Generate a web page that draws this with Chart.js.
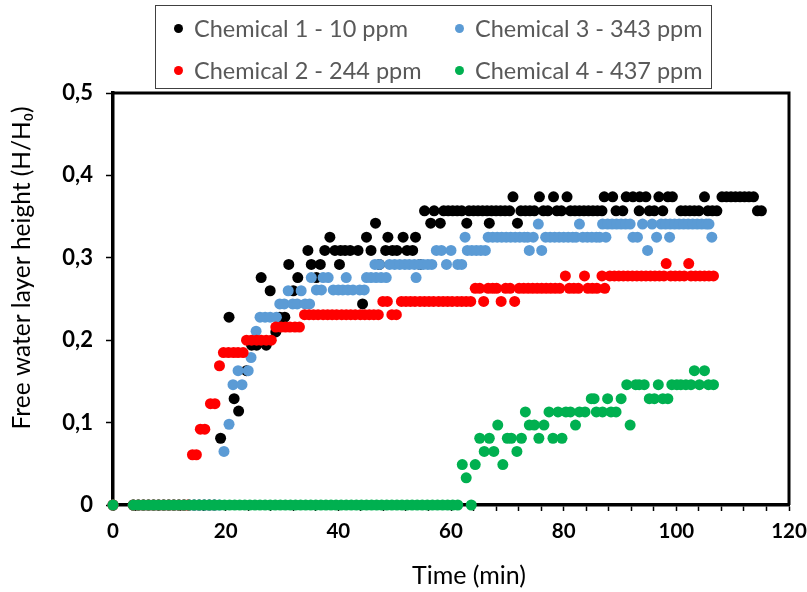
<!DOCTYPE html>
<html>
<head>
<meta charset="utf-8">
<script src="https://cdn.jsdelivr.net/npm/chart.js@4.4.0/dist/chart.umd.min.js"></script>
<style>
  body { margin: 0; background: #fff; }
  #wrap { position: relative; width: 807px; height: 592px; }
  #legend {
    position: absolute; left: 155px; top: 5px; width: 557px; height: 84px;
    box-sizing: border-box; border: 1.5px solid #404040;
    font-family: Lato, sans-serif; font-size: 23.5px; color: #595959;
  }
  .item { position: absolute; white-space: nowrap; line-height: 28px; }
  .dot { position: absolute; width: 9px; height: 9px; border-radius: 50%; top: 10px; left: -20px; }
</style>
</head>
<body>
<div id="wrap">
  <canvas id="chart" width="807" height="592"></canvas>
  <div id="legend"></div>
</div>
<script>
// readings: [time (min), free water layer height H/H0]
var chem1Points = [
  [0,0],[3.6,0],[4.5,0],[5.4,0],[6.3,0],[7.2,0],[8.1,0],[9.0,0],[9.9,0],[10.8,0],[11.7,0],[12.6,0],[13.5,0],[14.4,0],[15.3,0],[16.2,0],[17.1,0],[18.0,0],
  [19.1,0.081],[20.6,0.228],[21.5,0.129],[22.3,0.114],[23.7,0.163],[24.6,0.194],[25.5,0.194],[26.3,0.276],[27.2,0.194],[27.9,0.260],
  [28.9,0.210],[29.6,0.228],[30.5,0.228],[31.2,0.292],[32.0,0.260],[32.8,0.276],[34.6,0.309],[35.2,0.292],[36.1,0.276],[36.8,0.292],
  [37.6,0.309],[38.5,0.325],[39.4,0.309],[40.2,0.292],[40.4,0.309],[41.2,0.309],[42.1,0.309],[43.5,0.309],[44.3,0.244],[45.0,0.325],
  [45.8,0.309],[46.6,0.342],[47.3,0.292],[48.4,0.309],[48.8,0.325],[49.6,0.309],[50.4,0.309],[51.5,0.325],[52.2,0.309],[53.2,0.309],
  [53.7,0.325],[54.5,0.292],[55.3,0.357],[56.4,0.342],[57.0,0.357],[58.1,0.342],[58.7,0.357],[59.5,0.357],[60.3,0.357],[61.1,0.357],
  [61.9,0.357],[62.8,0.342],[63.2,0.357],[64.0,0.357],[64.8,0.357],[65.6,0.357],[66.4,0.357],[66.8,0.342],[67.2,0.357],[68.0,0.357],
  [68.8,0.357],[69.6,0.357],[70.4,0.357],[71.0,0.374],[71.8,0.342],[72.4,0.357],[73.2,0.357],[74.0,0.357],[74.8,0.357],[75.7,0.374],
  [76.4,0.357],[77.2,0.357],[78.2,0.374],[78.8,0.357],[79.6,0.357],[80.6,0.374],[81.2,0.357],[82.0,0.357],[82.8,0.357],[83.6,0.357],
  [84.4,0.357],[85.2,0.357],[86.0,0.357],[86.8,0.357],[87.2,0.374],[88.7,0.374],[89.3,0.357],[90.5,0.357],[91.1,0.374],[92.3,0.374],
  [93.4,0.357],[93.5,0.374],[94.6,0.374],[95.2,0.357],[96.1,0.357],[96.9,0.374],[97.6,0.357],[98.5,0.374],[99.3,0.374],[100.8,0.357],
  [101.6,0.357],[102.4,0.357],[103.2,0.357],[104.0,0.357],[105.0,0.374],[105.6,0.357],[106.4,0.357],[107.2,0.357],[108.1,0.374],
  [108.9,0.374],[109.7,0.374],[110.5,0.374],[111.3,0.374],[112.1,0.374],[112.9,0.374],[113.7,0.374],[114.4,0.357],[115.1,0.357]
];
var chem2Points = [
  [0,0],[3.6,0],[4.5,0],[5.4,0],[6.3,0],[7.2,0],[8.1,0],[9.0,0],[9.9,0],[10.8,0],[11.7,0],[12.6,0],[13.3,0],
  [14.1,0.061],[14.8,0.061],[15.5,0.092],[16.3,0.092],[17.3,0.123],[18.1,0.123],[18.9,0.169],[19.6,0.185],[20.5,0.185],[21.4,0.185],
  [22.2,0.185],[23.1,0.185],[23.7,0.200],[24.6,0.200],[25.5,0.200],[26.3,0.200],[27.2,0.200],[28.1,0.200],[28.9,0.216],[29.8,0.216],
  [30.6,0.216],[31.4,0.216],[32.3,0.216],[33.1,0.216],[34.0,0.231],[34.8,0.231],[35.6,0.231],[36.4,0.231],[37.3,0.231],[38.1,0.231],
  [38.9,0.231],[39.7,0.231],[40.6,0.231],[41.4,0.231],[42.2,0.231],[43.0,0.231],[43.9,0.231],[44.7,0.231],[45.5,0.231],[46.3,0.231],
  [47.1,0.231],[47.9,0.247],[48.7,0.247],[49.5,0.231],[50.3,0.231],[51.2,0.247],[52.0,0.247],[52.8,0.247],[53.6,0.247],[54.5,0.247],
  [55.3,0.247],[56.1,0.247],[56.9,0.247],[57.8,0.247],[58.6,0.247],[59.4,0.247],[60.2,0.247],[61.1,0.247],[61.9,0.247],[62.7,0.247],
  [63.5,0.247],[64.3,0.263],[65.1,0.263],[65.8,0.247],[66.6,0.263],[67.4,0.263],[68.1,0.263],[68.9,0.247],[69.7,0.263],[70.5,0.263],
  [71.3,0.247],[72.1,0.263],[72.9,0.263],[73.7,0.263],[74.5,0.263],[75.3,0.263],[76.1,0.263],[76.9,0.263],[77.7,0.263],[78.5,0.263],
  [79.3,0.263],[80.3,0.278],[81.0,0.263],[81.8,0.263],[82.6,0.263],[83.7,0.278],[84.3,0.263],[85.1,0.263],[85.9,0.263],[86.8,0.278],
  [87.3,0.263],[88.2,0.278],[89.0,0.278],[89.8,0.278],[90.6,0.278],[91.4,0.278],[92.2,0.278],[93.0,0.278],[93.8,0.278],[94.6,0.278],
  [95.4,0.278],[96.2,0.278],[97.0,0.278],[97.8,0.278],[98.2,0.293],[99.0,0.278],[99.8,0.278],[100.6,0.278],[101.4,0.278],[102.2,0.293],
  [102.6,0.278],[103.4,0.278],[104.2,0.278],[105.0,0.278],[105.8,0.278],[106.6,0.278]
];
var chem3Points = [
  [0,0],[3.6,0],[4.5,0],[5.4,0],[6.3,0],[7.2,0],[8.1,0],[9.0,0],[9.9,0],[10.8,0],[11.7,0],[12.6,0],[13.5,0],[14.4,0],[15.3,0],[16.2,0],[17.1,0],[18.0,0],[18.9,0],
  [19.7,0.065],[20.6,0.098],[21.3,0.146],[22.2,0.163],[22.9,0.146],[24.0,0.163],[24.5,0.179],[25.4,0.211],[26.1,0.228],[27.0,0.228],
  [27.9,0.228],[29.0,0.228],[29.6,0.244],[30.4,0.244],[31.1,0.260],[31.9,0.244],[32.7,0.244],[33.4,0.260],[34.1,0.244],[34.9,0.244],
  [35.2,0.276],[36.1,0.261],[37.0,0.261],[37.3,0.276],[38.2,0.276],[39.1,0.261],[40.0,0.261],[40.8,0.261],[41.4,0.276],[41.7,0.261],
  [42.6,0.261],[43.8,0.261],[44.6,0.261],[45.0,0.276],[45.8,0.276],[46.5,0.292],[46.7,0.276],[47.3,0.292],[47.6,0.276],[48.5,0.276],
  [49.1,0.292],[50.0,0.292],[50.9,0.292],[51.8,0.292],[52.6,0.292],[53.5,0.292],[53.8,0.276],[54.4,0.292],[55.1,0.292],[55.9,0.292],
  [56.6,0.292],[57.4,0.309],[58.3,0.309],[59.2,0.292],[60.0,0.309],[61.2,0.292],[61.9,0.292],[62.5,0.325],[62.9,0.309],[63.7,0.309],
  [64.5,0.309],[65.3,0.309],[66.1,0.309],[66.6,0.325],[67.4,0.325],[68.2,0.325],[69.0,0.325],[69.8,0.325],[70.6,0.325],[71.4,0.325],
  [72.2,0.325],[73.0,0.325],[73.6,0.325],[73.9,0.309],[74.6,0.325],[75.5,0.341],[76.1,0.309],[76.8,0.325],[77.6,0.325],[78.4,0.325],
  [79.2,0.325],[80.0,0.325],[80.8,0.325],[81.6,0.325],[82.2,0.325],[82.8,0.341],[83.4,0.325],[84.2,0.325],[85.0,0.325],[85.8,0.325],
  [86.4,0.325],[86.9,0.341],[87.5,0.325],[87.8,0.341],[88.6,0.341],[89.4,0.341],[90.2,0.341],[91.0,0.341],[91.8,0.341],[92.3,0.325],
  [93.1,0.325],[94.0,0.341],[94.9,0.309],[95.7,0.341],[96.5,0.325],[97.3,0.341],[98.1,0.341],[98.8,0.325],[98.9,0.341],[99.7,0.341],
  [100.5,0.341],[101.3,0.341],[102.1,0.341],[102.9,0.341],[103.7,0.341],[104.5,0.341],[105.3,0.341],[105.8,0.341],[106.3,0.325]
];
var chem4Points = [
  [0,0],[3.6,0],[4.5,0],[5.4,0],[6.3,0],[7.2,0],[8.1,0],[9.0,0],[9.9,0],[10.8,0],[11.7,0],[12.6,0],[13.5,0],[14.4,0],[15.3,0],
  [16.2,0],[17.1,0],[18.0,0],[18.9,0],[19.8,0],[20.7,0],[21.6,0],[22.5,0],[23.4,0],[24.3,0],[25.2,0],[26.1,0],[27.0,0],[27.9,0],
  [28.8,0],[29.7,0],[30.6,0],[31.5,0],[32.4,0],[33.3,0],[34.2,0],[35.1,0],[36.0,0],[36.9,0],[37.8,0],[38.7,0],[39.6,0],[40.5,0],
  [41.4,0],[42.3,0],[43.2,0],[44.1,0],[45.0,0],[45.9,0],[46.8,0],[47.7,0],[48.6,0],[49.5,0],[50.4,0],[51.3,0],[52.2,0],[53.1,0],
  [54.0,0],[54.9,0],[55.8,0],[56.7,0],[57.6,0],[58.5,0],[59.4,0],[60.3,0],[61.2,0],
  [62.0,0.049],[62.7,0.033],[63.6,0],[64.3,0.049],[65.1,0.081],[65.9,0.065],[66.8,0.081],[67.6,0.065],[68.3,0.097],[69.2,0.049],
  [70.0,0.081],[70.7,0.081],[71.7,0.065],[72.5,0.081],[73.2,0.113],[73.9,0.097],[74.8,0.097],[75.6,0.081],[76.5,0.097],[77.4,0.113],
  [78.1,0.081],[79.0,0.113],[79.7,0.081],[80.4,0.113],[81.2,0.113],[82.1,0.097],[82.8,0.113],[83.8,0.113],[84.9,0.129],[85.4,0.129],
  [85.8,0.113],[86.9,0.113],[87.8,0.129],[88.4,0.113],[89.3,0.113],[90.2,0.129],[91.2,0.146],[91.8,0.097],[92.8,0.146],[93.4,0.146],
  [94.3,0.146],[95.2,0.129],[96.1,0.129],[96.8,0.146],[97.6,0.129],[98.5,0.129],[99.2,0.146],[100.1,0.146],[100.8,0.146],[101.7,0.146],
  [102.6,0.146],[103.2,0.163],[104.1,0.146],[105.0,0.163],[105.7,0.146],[106.6,0.146]
];

var seriesLabels = ['Chemical 1 - 10 ppm', 'Chemical 2 - 244 ppm', 'Chemical 3 - 343 ppm', 'Chemical 4 - 437 ppm'];
var seriesColors = ['#000000', '#FF0000', '#5B9BD5', '#00B050'];
var seriesPoints = [chem1Points, chem2Points, chem3Points, chem4Points];
var drawOrder = [3, 1, 2, 0]; // lower = drawn on top
var xTickLabels = [0, 20, 40, 60, 80, 100, 120];

function toXY(list) {
  return list.map(function (p) { return { x: p[0], y: p[1] }; });
}

var plotFrame = {
  id: 'plotFrame',
  beforeDatasetsDraw: function (chart) {
    var ctx = chart.ctx, a = chart.chartArea;
    ctx.save();
    ctx.strokeStyle = '#000';
    ctx.lineWidth = 3;
    ctx.beginPath();
    ctx.moveTo(a.left, a.top);
    ctx.lineTo(a.right, a.top);
    ctx.lineTo(a.right, a.bottom);
    ctx.stroke();
    ctx.restore();
  },
  afterDraw: function (chart) {
    var ctx = chart.ctx, a = chart.chartArea;
    ctx.save();
    ctx.fillStyle = '#000';
    ctx.font = '25px Lato';
    ctx.textAlign = 'center';
    ctx.textBaseline = 'middle';
    ctx.fillText('Time (min)', (a.left + a.right) / 2 + 18, chart.height - 16);
    ctx.font = '24.5px Lato';
    ctx.translate(22, (a.top + a.bottom) / 2 - 31);
    ctx.rotate(-Math.PI / 2);
    ctx.fillText('Free water layer height (H/H\u2080)', 0, 0);
    ctx.restore();
  }
};

var ctx = document.getElementById('chart').getContext('2d');
var chart = new Chart(ctx, {
  type: 'scatter',
  data: {
    datasets: seriesPoints.map(function (pts, i) {
      return {
        label: seriesLabels[i],
        data: toXY(pts),
        backgroundColor: seriesColors[i],
        borderWidth: 0,
        pointRadius: 5.5,
        pointHoverRadius: 5.5,
        order: drawOrder[i],
        clip: false
      };
    })
  },
  options: {
    responsive: false,
    animation: false,
    layout: { padding: { top: 93, right: 18, left: 0, bottom: 0 } },
    plugins: {
      legend: { display: false },
      tooltip: { enabled: false }
    },
    scales: {
      x: {
        type: 'linear',
        min: 0,
        max: 120,
        ticks: {
          stepSize: 4,
          autoSkip: false,
          maxRotation: 0,
          padding: 8,
          color: '#000',
          font: { family: 'Lato', size: 20.5, weight: 'bold' },
          callback: function (v) { return xTickLabels.indexOf(v) >= 0 ? String(v) : ''; }
        },
        grid: { drawOnChartArea: false, tickLength: 6, tickWidth: 1.5, color: '#000' },
        border: { color: '#000', width: 3.5 },
        afterFit: function (s) { s.height = 87; s.paddingLeft = 0; s.paddingRight = 0; }
      },
      y: {
        min: 0,
        max: 0.5,
        ticks: {
          stepSize: 0.1,
          padding: 13,
          color: '#000',
          font: { family: 'Lato', size: 22, weight: 'bold' },
          callback: function (v) { return v === 0 ? '0' : v.toFixed(1).replace('.', ','); }
        },
        grid: { drawOnChartArea: false, tickLength: 7, tickWidth: 1.5, color: '#000' },
        border: { color: '#000', width: 3.5 },
        afterFit: function (s) { s.width = 113; s.paddingTop = 0; s.paddingBottom = 0; }
      }
    }
  },
  plugins: [plotFrame]
});

// legend box laid out in two columns like the original
var legendOrder = [0, 2, 1, 3];
var legendSlots = [[38, 22], [319, 22], [38, 64], [319, 64]];
var box = document.getElementById('legend');
legendOrder.forEach(function (idx, k) {
  var item = document.createElement('div');
  item.className = 'item';
  item.style.left = legendSlots[k][0] + 'px';
  item.style.top = (legendSlots[k][1] - 14) + 'px';
  var dot = document.createElement('span');
  dot.className = 'dot';
  dot.style.background = seriesColors[idx];
  item.appendChild(dot);
  item.appendChild(document.createTextNode(seriesLabels[idx]));
  box.appendChild(item);
});
</script>
</body>
</html>
